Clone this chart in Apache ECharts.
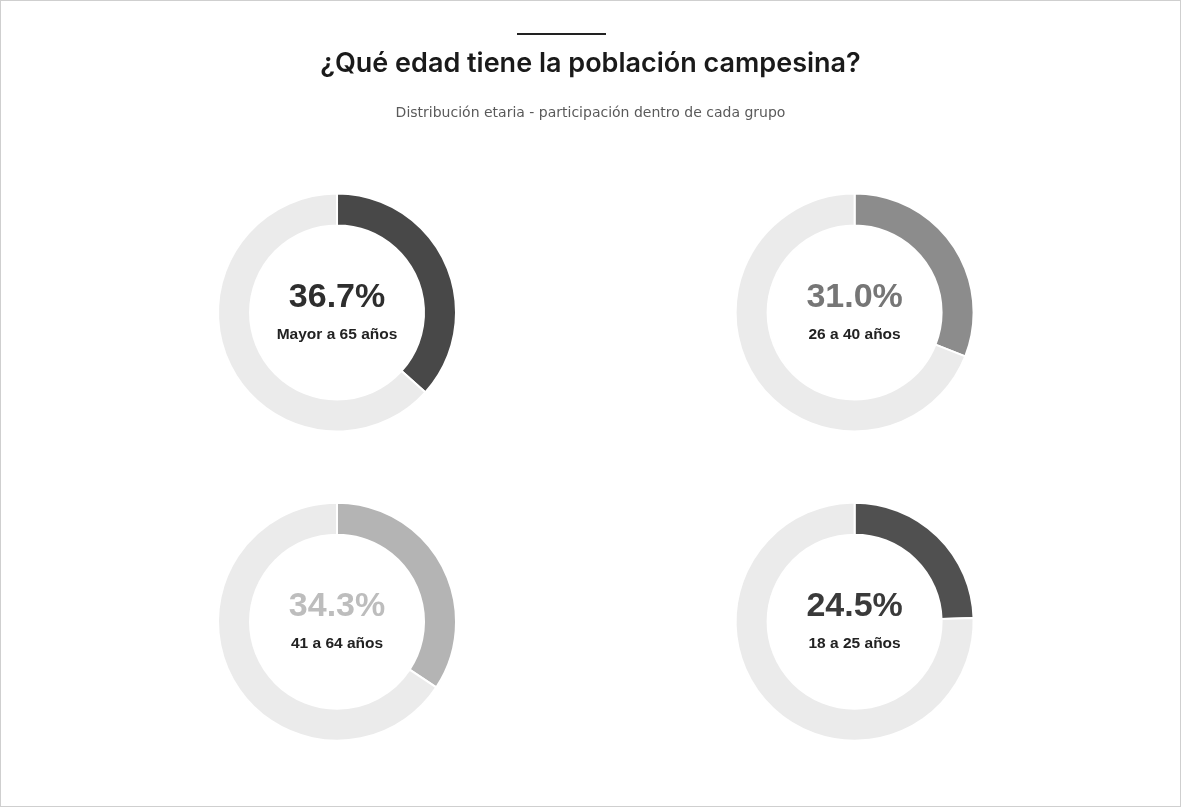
<!DOCTYPE html>
<html><head><meta charset="utf-8">
<script src="https://cdn.jsdelivr.net/npm/echarts@6/dist/echarts.min.js"></script>
<style>
html,body{margin:0;padding:0;background:#fff;}
#c{width:1181px;height:807px;box-sizing:border-box;border:1px solid #cfcfcf;}
</style></head>
<body><div id="c"></div>
<script>
const groups = ['Mayor a 65 años', '26 a 40 años', '41 a 64 años', '18 a 25 años'];
const shares = [36.7, 31.0, 34.3, 24.5];
const arcColors = ['#484848', '#8c8c8c', '#b4b4b4', '#505050'];
const pctColors = ['#2e2e2e', '#767676', '#bdbdbd', '#3a3a3a'];
const centers = [['28.5%', '38.7%'], ['72.4%', '38.7%'], ['28.5%', '77.1%'], ['72.4%', '77.1%']];

const chart = echarts.init(document.getElementById('c'));
const series = groups.map((g, i) => ({
  type: 'pie',
  center: centers[i],
  radius: [87, 119],
  startAngle: 90,
  clockwise: true,
  silent: true,
  avoidLabelOverlap: false,
  labelLine: {show: false},
  itemStyle: {borderColor: '#fff', borderWidth: 2},
  data: [
    {value: shares[i], name: g, itemStyle: {color: arcColors[i]},
     label: {show: true, position: 'center',
       formatter: '{p|' + shares[i].toFixed(1) + '%}\n{l|' + g + '}',
       rich: {
         p: {fontFamily: 'Liberation Sans, Arial, sans-serif', fontSize: 34, fontWeight: 'bold', color: pctColors[i], lineHeight: 44},
         l: {fontFamily: 'Liberation Sans, Arial, sans-serif', fontSize: 15.5, fontWeight: 'bold', color: '#222', lineHeight: 30}
       }}},
    {value: 100 - shares[i], name: 'resto', itemStyle: {color: '#ebebeb'}, label: {show: false}}
  ]
}));

chart.setOption({
  backgroundColor: '#fff',
  animation: false,
  title: [
    {text: '¿Qué edad tiene la población campesina?', left: 'center', top: 44,
     textStyle: {fontFamily: 'Inter, sans-serif', fontSize: 27, fontWeight: 600, color: '#1a1a1a'}},
    {text: 'Distribución etaria - participación dentro de cada grupo', left: 'center', top: 100,
     textStyle: {fontFamily: 'DejaVu Sans, sans-serif', fontSize: 14, fontWeight: 'normal', color: '#5a5a5a'}}
  ],
  graphic: [
    {type: 'rect', shape: {x: 516, y: 32, width: 89, height: 2}, style: {fill: '#222'}}
  ],
  series: series
});
</script>
</body></html>
